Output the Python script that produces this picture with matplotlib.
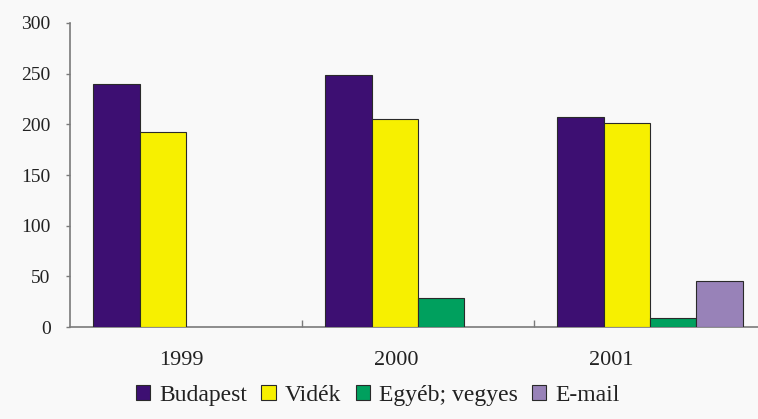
import matplotlib
matplotlib.use('Agg')
import matplotlib.pyplot as plt
import matplotlib.transforms as mtransforms
import numpy as np
from matplotlib.patches import Patch

years = ['1999', '2000', '2001']
series_names = ['Budapest', 'Vidék', 'Egyéb; vegyes', 'E-mail']
budapest = [240, 249, 207]
videk = [192, 205, 201]
egyeb = [0, 29, 9]
email = [0, 0, 45]
colors = ['#3d0f72', '#f7f000', '#00a05e', '#9882b8']

plt.rcParams['font.family'] = ['Liberation Serif', 'DejaVu Serif']

fig = plt.figure(figsize=(7.58, 4.19), dpi=100, facecolor='#f9f9f9')
ax = fig.add_axes([70 / 758, 1 - 327 / 419, 696 / 758, 304 / 419])
ax.set_facecolor('#f9f9f9')

x = np.arange(len(years))
width = 0.2
values = [budapest, videk, egyeb, email]
for i, (vals, col) in enumerate(zip(values, colors)):
    # empty categories get no outline, as in the original
    lw = [0.8 if v > 0 else 0 for v in vals]
    ax.bar(x + (i - 1.5) * width, vals, width, color=col,
           edgecolor='#2a2a2a', linewidth=lw, zorder=3)

ax.set_xlim(-0.5, 2.5)
ax.set_ylim(0, 300)
ax.set_yticks(range(0, 301, 50))
ax.set_xticks(x)
ax.set_xticklabels(years)
ax.set_xticks([0.5, 1.5], minor=True)

for side in ['top', 'right']:
    ax.spines[side].set_visible(False)
for side in ['left', 'bottom']:
    ax.spines[side].set_color('#7a7a7a')
    ax.spines[side].set_linewidth(1.2)

ax.tick_params(axis='y', direction='out', length=3, width=1, color='#7a7a7a',
               labelsize=14, labelcolor='#222222', pad=11)
ax.tick_params(axis='x', which='major', length=0, labelsize=16,
               labelcolor='#222222', pad=17)
ax.tick_params(axis='x', which='minor', direction='in', length=5, width=1,
               color='#7a7a7a')

# the year labels sit a little left of the group centres in the original
shifts = [-5, -22, -39]
for lab, dx in zip(ax.get_xticklabels(), shifts):
    lab.set_transform(lab.get_transform() +
                      mtransforms.ScaledTranslation(dx / 100, 0, fig.dpi_scale_trans))

handles = [Patch(facecolor=c, edgecolor='#2a2a2a', linewidth=0.8) for c in colors]
fig.legend(handles, series_names, loc='center', bbox_to_anchor=(378 / 758, 1 - 395 / 419),
           ncol=4, frameon=False, fontsize=17, handlelength=0.6, handleheight=0.6,
           handletextpad=0.4, columnspacing=0.6, labelcolor='#222222')

fig.savefig('out.png', dpi=100, facecolor=fig.get_facecolor())
